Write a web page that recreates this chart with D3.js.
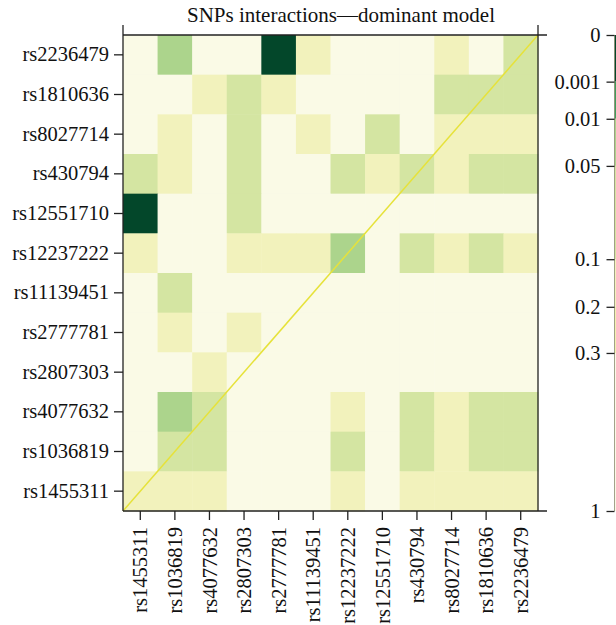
<!DOCTYPE html>
<html><head><meta charset="utf-8">
<script src="https://cdn.jsdelivr.net/npm/d3@7"></script>
<style>
html,body{margin:0;padding:0;background:#fff;}
svg text{font-family:"Liberation Serif","DejaVu Serif",serif;fill:#111;}
</style></head>
<body><svg id="c" width="616" height="625"></svg>
<script>
const title = "SNPs interactions\u2014dominant model";
const rowLabels = ["rs2236479","rs1810636","rs8027714","rs430794","rs12551710","rs12237222","rs11139451","rs2777781","rs2807303","rs4077632","rs1036819","rs1455311"];
const colLabels = ["rs1455311","rs1036819","rs4077632","rs2807303","rs2777781","rs11139451","rs12237222","rs12551710","rs430794","rs8027714","rs1810636","rs2236479"];
// estimated p-values (by colour band) per row, columns in colLabels order
const pValues = [
  [0.5,0.03,0.5,0.5,0.0005,0.15,0.5,0.5,0.5,0.15,0.5,0.07],
  [0.5,0.5,0.15,0.07,0.15,0.5,0.5,0.5,0.5,0.07,0.07,0.07],
  [0.5,0.15,0.5,0.07,0.5,0.15,0.5,0.07,0.5,0.15,0.15,0.15],
  [0.07,0.15,0.5,0.07,0.5,0.5,0.07,0.15,0.07,0.15,0.07,0.07],
  [0.0005,0.5,0.5,0.07,0.5,0.5,0.5,0.5,0.5,0.5,0.5,0.5],
  [0.15,0.5,0.5,0.15,0.15,0.15,0.03,0.5,0.07,0.15,0.07,0.15],
  [0.5,0.07,0.5,0.5,0.5,0.5,0.5,0.5,0.5,0.5,0.5,0.5],
  [0.5,0.15,0.5,0.15,0.5,0.5,0.5,0.5,0.5,0.5,0.5,0.5],
  [0.5,0.5,0.15,0.5,0.5,0.5,0.5,0.5,0.5,0.5,0.5,0.5],
  [0.5,0.03,0.07,0.5,0.5,0.5,0.15,0.5,0.07,0.15,0.07,0.07],
  [0.5,0.07,0.07,0.5,0.5,0.5,0.07,0.5,0.07,0.15,0.07,0.07],
  [0.15,0.15,0.15,0.5,0.5,0.5,0.15,0.5,0.15,0.15,0.15,0.15]
];
const legendTicks = [0,0.001,0.01,0.05,0.1,0.2,0.3,1];
const legendTickLabels = ["0","0.001","0.01","0.05","0.1","0.2","0.3","1"];
const legendFrac = [0,0.098,0.176,0.275,0.471,0.571,0.668,1];
const colourBreaks = [0.001,0.01,0.05,0.1,0.2,0.3];
const colourBands = ["#03472a","#3f9d5a","#acd48c","#d4e5a2","#f2f2bc","#f1f1b0","#fafae6"];

const svg = d3.select("#c");
const L=123, R=538, T=35, B=511;
const x = d3.scaleBand().domain(colLabels).range([L,R]);
const y = d3.scaleBand().domain(rowLabels).range([T,B]);
const colour = d3.scaleThreshold().domain(colourBreaks).range(colourBands);

const cells = [];
pValues.forEach((row,i)=>row.forEach((p,j)=>cells.push({r:rowLabels[i],c:colLabels[j],p})));
svg.append("g").selectAll("rect").data(cells).join("rect")
  .attr("x",d=>x(d.c)).attr("y",d=>y(d.r))
  .attr("width",x.bandwidth()+0.5).attr("height",y.bandwidth()+0.5)
  .attr("fill",d=>colour(d.p));

// diagonal
svg.append("line").attr("x1",L).attr("y1",B).attr("x2",R).attr("y2",T)
  .attr("stroke","#e6e23a").attr("stroke-width",1.5);

// frame lines
const fr = svg.append("g").attr("stroke","#222").attr("stroke-width",1.3);
fr.append("line").attr("x1",L).attr("x2",R+9).attr("y1",T).attr("y2",T);
fr.append("line").attr("x1",L).attr("x2",R+9).attr("y1",B).attr("y2",B);
fr.append("line").attr("x1",L).attr("x2",L).attr("y1",T-10).attr("y2",B);
fr.append("line").attr("x1",R).attr("x2",R).attr("y1",T-10).attr("y2",B);

// y axis
const ya = svg.append("g").attr("transform",`translate(${L},0)`)
  .call(d3.axisLeft(y).tickSize(9).tickPadding(5));
ya.select(".domain").remove();
ya.selectAll("line").attr("stroke","#222").attr("stroke-width",1.3);
ya.selectAll("text").attr("font-size","20.5px").attr("fill","#111");

// x axis
const xa = svg.append("g").attr("transform",`translate(0,${B})`)
  .call(d3.axisBottom(x).tickSize(9).tickPadding(5));
xa.select(".domain").remove();
xa.selectAll("line").attr("stroke","#222").attr("stroke-width",1.3);
xa.selectAll("text").attr("font-size","20.5px").attr("fill","#111")
  .attr("text-anchor","end").attr("dy","0.35em")
  .attr("transform","translate(0,16) rotate(-90)").attr("y",0).attr("x",0);

// title
svg.append("text").attr("x",341).attr("y",22).attr("text-anchor","middle")
  .attr("font-size","21px").text(title);

// colour bar
const ly = d3.scaleLinear().domain(legendTicks).range(legendFrac.map(f=>T+f*(B-T)));
const bx = 614.5;
const segs = [0].concat(colourBreaks).concat([1]);
svg.append("g").selectAll("rect").data(d3.range(segs.length-1)).join("rect")
  .attr("x",bx).attr("width",12)
  .attr("y",i=>ly(segs[i])).attr("height",i=>ly(segs[i+1])-ly(segs[i]))
  .attr("fill",i=>colourBands[i]);
svg.append("line").attr("x1",bx).attr("x2",bx).attr("y1",T).attr("y2",B).attr("stroke","#8a8a70").attr("stroke-width",0.8);
const la = svg.append("g").attr("transform",`translate(${bx},0)`)
  .call(d3.axisLeft(ly).tickValues(legendTicks).tickFormat((d,i)=>legendTickLabels[i]).tickSize(8).tickPadding(6));
la.select(".domain").remove();
la.selectAll("line").attr("stroke","#222").attr("stroke-width",1.3);
la.selectAll("text").attr("font-size","20.5px").attr("fill","#111");
</script></body></html>
